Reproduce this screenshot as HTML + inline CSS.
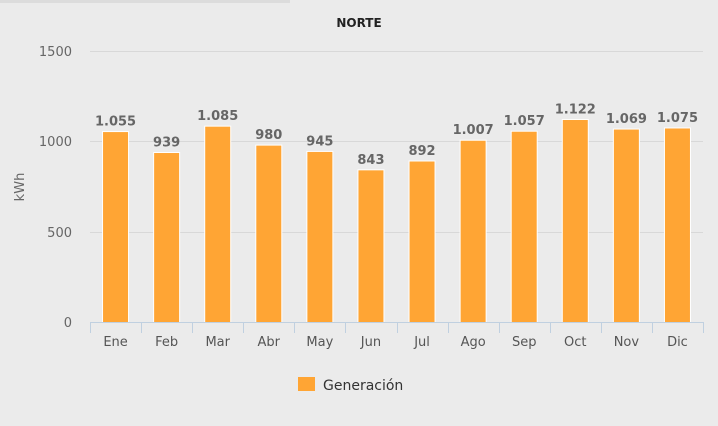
<!DOCTYPE html>
<html><head><meta charset="utf-8"><style>
html,body{margin:0;padding:0;background:#ebebeb;}
svg{display:block;font-family:"DejaVu Sans","Liberation Sans",sans-serif;}
</style></head><body>
<svg width="718" height="426" viewBox="0 0 718 426" xmlns="http://www.w3.org/2000/svg">
<rect width="718" height="426" fill="#ebebeb"/>
<rect x="0" y="0" width="290" height="3" fill="#dcdcdc"/>
<text x="359" y="27" text-anchor="middle" font-size="12" font-weight="bold" fill="#222">NORTE</text>
<g stroke="#d8d8d8" stroke-width="1">
<line x1="90" x2="703" y1="51.5" y2="51.5"/>
<line x1="90" x2="703" y1="141.5" y2="141.5"/>
<line x1="90" x2="703" y1="232.5" y2="232.5"/>
</g>
<g font-size="13" fill="#666" text-anchor="end">
<text x="72" y="56">1500</text>
<text x="72" y="146">1000</text>
<text x="72" y="237">500</text>
<text x="72" y="327">0</text>
</g>
<text transform="translate(24,187) rotate(-90)" text-anchor="middle" font-size="13" fill="#666">kWh</text>
<g id="bars"></g>
<line x1="90" x2="703" y1="322.5" y2="322.5" stroke="#c0d0e0"/>
<g id="ticks" stroke="#c0d0e0"></g>
<g id="xl" font-size="13" fill="#555" text-anchor="middle"></g>
<rect x="298" y="377" width="17" height="14" fill="#ffa534"/>
<text x="323" y="390" font-size="14" fill="#333">Generación</text>
<script>
var v=[1055,939,1085,980,945,843,892,1007,1057,1122,1069,1075];
var m=["Ene","Feb","Mar","Abr","May","Jun","Jul","Ago","Sep","Oct","Nov","Dic"];
var ns="http://www.w3.org/2000/svg",w=613/12,b=document.getElementById("bars"),t=document.getElementById("ticks"),x=document.getElementById("xl");
function el(n,a,p){var e=document.createElementNS(ns,n);for(var k in a)e.setAttribute(k,a[k]);p.appendChild(e);return e;}
for(var i=0;i<12;i++){var c=90+w*i+w/2,h=v[i]*0.1805,y=322-h;
el("rect",{x:c-13,y:y,width:26,height:h+0.5,fill:"#ffa534",stroke:"#fff","stroke-width":1},b);
var tx=el("text",{x:c,y:y-6,"text-anchor":"middle","font-size":"13","font-weight":"bold",fill:"#666"},b);
tx.textContent=(v[i]>=1000?Math.floor(v[i]/1000)+"."+String(v[i]%1000).padStart(3,"0"):v[i]);
var lx=el("text",{x:c,y:346},x);lx.textContent=m[i];}
for(var i=0;i<=12;i++){var xx=Math.round(90+w*i)+0.5;el("line",{x1:xx,x2:xx,y1:322,y2:333},t);}
</script>
</svg>
</body></html>
